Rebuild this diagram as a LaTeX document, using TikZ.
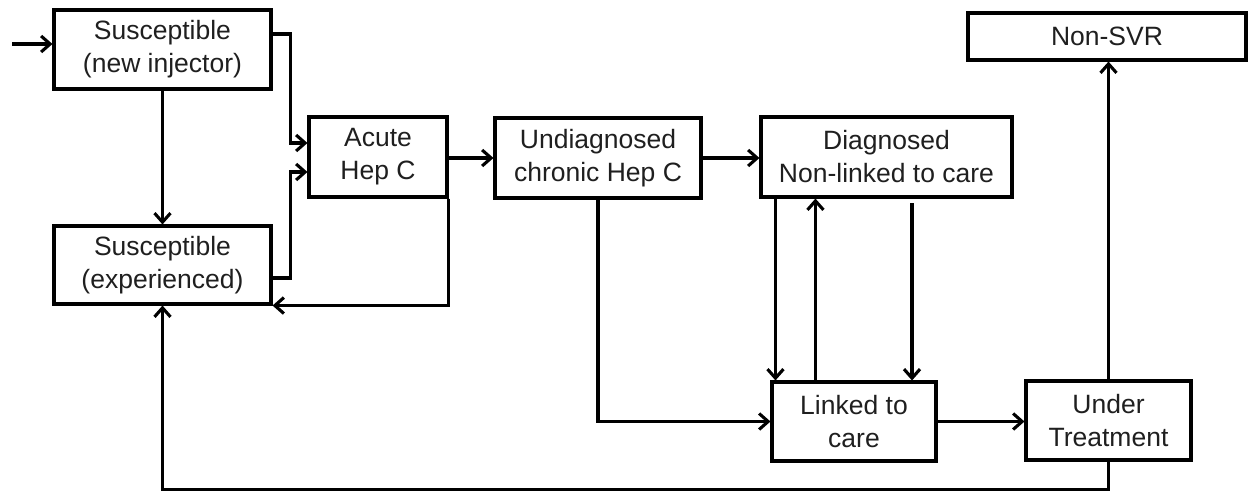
\documentclass[tikz,border=0pt]{standalone}
\usepackage{fontspec}
\setmainfont{Liberation Sans}
\usetikzlibrary{arrows.meta}
\tikzset{
  box/.style={draw, line width=3.1pt, inner sep=0pt, align=center, text=black!88, font=\fontsize{26.5}{33}\selectfont},
  arr/.style={line width=3.1pt, -{Straight Barb[length=9pt,width=16pt,line width=3.1pt]}}
}
\begin{document}
\begin{tikzpicture}[x=1pt,y=-1pt]
\useasboundingbox (0,0) rectangle (1249,490);
\node[box, minimum width=217pt, minimum height=79pt] (snew) at (162.5,49.5) {Susceptible\\(new injector)};
\node[box, minimum width=217pt, minimum height=78pt] (sexp) at (162.5,265) {Susceptible\\(experienced)};
\node[box, minimum width=138pt, minimum height=80pt] (acute) at (378,157) {Acute\\Hep C};
\node[box, minimum width=206pt, minimum height=80pt] (undiag) at (598,158) {Undiagnosed\\chronic Hep C};
\node[box, minimum width=251pt, minimum height=80pt] (diag) at (886.5,157) {Diagnosed\\Non-linked to care};
\node[box, minimum width=164pt, minimum height=79pt] (linked) at (854,421.5) {Linked to\\care};
\node[box, minimum width=165pt, minimum height=79pt] (under) at (1108.5,420.5) {Under\\Treatment};
\node[box, minimum width=278pt, minimum height=47pt] (nonsvr) at (1107,36.5) {Non-SVR};
\coordinate (in) at (12,44);
\coordinate (d3) at (912,203);
% connectors
\draw[arr] (in) -- (in -| snew.west);
\draw[arr] ([yshift=15.5pt]snew.east) -- ++(18,0) |- ([yshift=14pt]acute.west);
\draw[arr] ([yshift=-13pt]sexp.east) -- ++(18,0) |- ([yshift=-15pt]acute.west);
\draw[arr] (snew.south) -- (sexp.north);
\draw[arr] (acute.south east) |- (sexp.south east);
\draw[arr] (undiag.west -| acute.east) -- (undiag.west);
\draw[arr] (undiag.east) -- (undiag.east -| diag.west);
\draw[arr] (undiag.south) |- (linked.west);
\draw[arr] ([xshift=16pt]diag.south west) -- ([xshift=16pt]diag.south west |- linked.north);
\draw[arr] ([xshift=56pt]diag.south west |- linked.north) -- ([xshift=56pt]diag.south west);
\draw[arr] (d3) -- (d3 |- linked.north);
\draw[arr] (linked.east) -- (linked.east -| under.west);
\draw[arr] (under.north) -- (under.north |- nonsvr.south);
\draw[arr] (under.south) -- ++(0,28) -| (sexp.south);
\end{tikzpicture}
\end{document}
